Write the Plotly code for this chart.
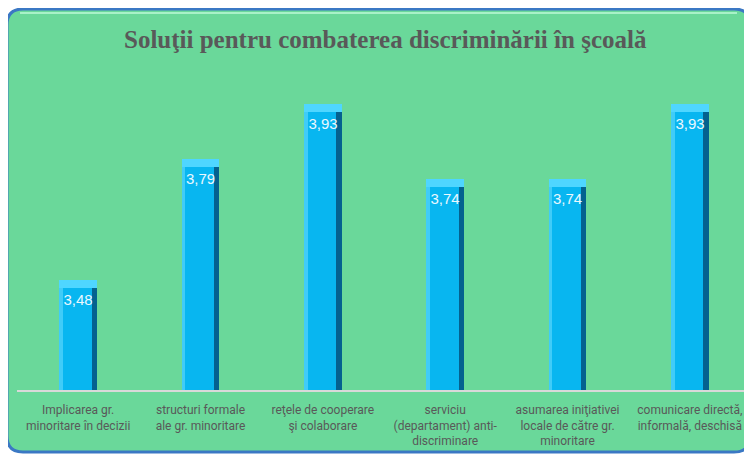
import plotly.graph_objects as go

# chart data
categories = [
    "Implicarea gr.<br>minoritare în decizii",
    "structuri formale<br>ale gr. minoritare",
    "reţele de cooperare<br>şi colaborare",
    "serviciu<br>(departament) anti-<br>discriminare",
    "asumarea iniţiativei<br>locale de către gr.<br>minoritare",
    "comunicare directă,<br>informală, deschisă",
]
scores = [3.48, 3.79, 3.93, 3.74, 3.74, 3.93]
title_text = "Soluţii pentru combaterea discriminării în şcoală"

# the page body has an 8px margin, so the figure is shrunk and shifted by it
OFF = 8
W, H = 752 - OFF, 454 - OFF
BAR_W = 0.31
BEVEL = 0.02
Y_MIN, Y_MAX = 3.2, 4.0


def px(x):
    return (x - OFF) / W


def py(y):
    return 1 - (y - OFF) / H


def rounded_rect(x0, y0, x1, y1, r):
    """Rounded rectangle path in paper coords, from page pixel corners."""
    return (
        f"M {px(x0 + r)},{py(y0)} L {px(x1 - r)},{py(y0)} "
        f"Q {px(x1)},{py(y0)} {px(x1)},{py(y0 + r)} "
        f"L {px(x1)},{py(y1 - r)} Q {px(x1)},{py(y1)} {px(x1 - r)},{py(y1)} "
        f"L {px(x0 + r)},{py(y1)} Q {px(x0)},{py(y1)} {px(x0)},{py(y1 - r)} "
        f"L {px(x0)},{py(y0 + r)} Q {px(x0)},{py(y0)} {px(x0 + r)},{py(y0)} Z"
    )


x = list(range(len(categories)))
heights = [v - Y_MIN for v in scores]

fig = go.Figure()

# dark body (right edge shading)
fig.add_trace(go.Bar(
    x=x, y=heights, base=Y_MIN,
    width=BAR_W, marker=dict(color="#04618F", line_width=0),
    hoverinfo="skip", showlegend=False,
))
# main face
fig.add_trace(go.Bar(
    x=x, y=heights, base=Y_MIN,
    width=BAR_W * 0.86, offset=-BAR_W / 2,
    marker=dict(color="#08B6F0", line_width=0),
    hoverinfo="skip", showlegend=False,
))
# light left edge
fig.add_trace(go.Bar(
    x=x, y=heights, base=Y_MIN,
    width=BAR_W * 0.1, offset=-BAR_W / 2,
    marker=dict(color="#40CCF8", line_width=0),
    hoverinfo="skip", showlegend=False,
))
# top bevel
fig.add_trace(go.Bar(
    x=x, y=[BEVEL] * len(scores), base=[v - BEVEL for v in scores],
    width=BAR_W, marker=dict(color="#4FD6FF", line_width=0),
    hoverinfo="skip", showlegend=False,
))
# value labels, on a transparent bar ending under the bevel
fig.add_trace(go.Bar(
    x=x, y=[h - BEVEL for h in heights], base=Y_MIN,
    width=BAR_W, marker=dict(color="rgba(0,0,0,0)", line_width=0),
    text=[f"{v:.2f}".replace(".", ",") for v in scores],
    textposition="inside", insidetextanchor="end",
    textfont=dict(family="Liberation Sans", size=15, color="#EAF8FF"),
    textangle=0, cliponaxis=False,
    hoverinfo="skip", showlegend=False,
))

fig.update_layout(
    width=W, height=H,
    margin=dict(l=0, r=0, t=0, b=0),
    paper_bgcolor="white",
    plot_bgcolor="rgba(0,0,0,0)",
    barmode="overlay",
    bargap=0,
    uniformtext=dict(minsize=15, mode="show"),
    xaxis=dict(
        domain=[px(17), px(751)],
        range=[-0.5, len(categories) - 0.5],
        tickmode="array", tickvals=x, ticktext=categories,
        showline=True, linecolor="#D9D9D9", linewidth=1.5,
        showgrid=False, zeroline=False, ticks="",
        ticklabelstandoff=8,
        tickfont=dict(family="Liberation Sans Narrow, Roboto", size=12, color="#595959"),
        automargin=False, fixedrange=True,
    ),
    yaxis=dict(
        domain=[py(390), py(77)],
        range=[Y_MIN, Y_MAX],
        visible=False, automargin=False, fixedrange=True,
    ),
    shapes=[
        dict(type="path", xref="paper", yref="paper", layer="below",
             path=rounded_rect(7, 9, 750, 452, 16),
             fillcolor="#6AD89A", line=dict(color="#3B78C4", width=3)),
        dict(type="path", xref="paper", yref="paper", layer="below",
             path=f"M {px(20)},{py(13)} L {px(737)},{py(13)}",
             line=dict(color="#A8F2C8", width=2)),
    ],
    annotations=[dict(
        text=f"<b>{title_text}</b>", xref="paper", yref="paper",
        x=px(385), y=py(40), yanchor="middle", showarrow=False,
        font=dict(family="Liberation Serif", size=25, color="#595959"),
    )],
)

fig.write_html("out.html")
